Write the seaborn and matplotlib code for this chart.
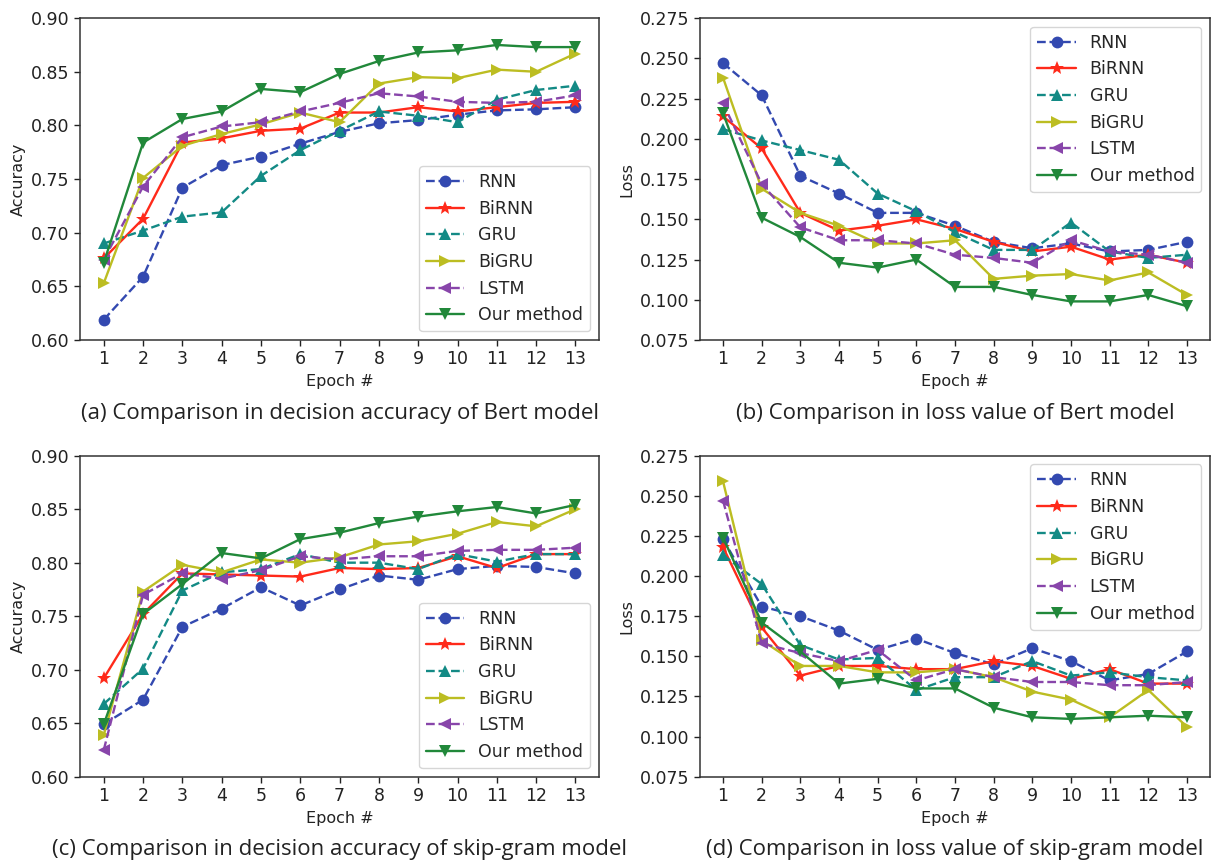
import numpy as np
import pandas as pd
import matplotlib
matplotlib.use('Agg')
import matplotlib.pyplot as plt
import seaborn as sns

epochs = list(range(1, 14))
models = ['RNN', 'BiRNN', 'GRU', 'BiGRU', 'LSTM', 'Our method']

# (a) accuracy, Bert
acc_bert = {
    'RNN':        [0.619, 0.659, 0.742, 0.763, 0.771, 0.783, 0.794, 0.802, 0.805, 0.810, 0.814, 0.815, 0.817],
    'BiRNN':      [0.676, 0.713, 0.784, 0.788, 0.795, 0.797, 0.812, 0.812, 0.817, 0.813, 0.817, 0.821, 0.822],
    'GRU':        [0.690, 0.702, 0.715, 0.719, 0.753, 0.777, 0.795, 0.813, 0.809, 0.803, 0.824, 0.833, 0.837],
    'BiGRU':      [0.653, 0.751, 0.781, 0.792, 0.801, 0.812, 0.803, 0.839, 0.845, 0.844, 0.852, 0.850, 0.867],
    'LSTM':       [0.675, 0.743, 0.789, 0.799, 0.803, 0.813, 0.821, 0.830, 0.827, 0.822, 0.821, 0.822, 0.828],
    'Our method': [0.672, 0.784, 0.806, 0.813, 0.834, 0.831, 0.848, 0.860, 0.868, 0.870, 0.875, 0.873, 0.873],
}

# (b) loss, Bert
loss_bert = {
    'RNN':        [0.247, 0.227, 0.177, 0.166, 0.154, 0.154, 0.146, 0.136, 0.132, 0.135, 0.130, 0.131, 0.136],
    'BiRNN':      [0.214, 0.194, 0.154, 0.143, 0.146, 0.150, 0.144, 0.136, 0.130, 0.133, 0.125, 0.128, 0.123],
    'GRU':        [0.206, 0.199, 0.193, 0.187, 0.166, 0.155, 0.142, 0.131, 0.131, 0.148, 0.130, 0.126, 0.128],
    'BiGRU':      [0.238, 0.169, 0.154, 0.146, 0.135, 0.135, 0.137, 0.113, 0.115, 0.116, 0.112, 0.117, 0.103],
    'LSTM':       [0.222, 0.172, 0.145, 0.137, 0.137, 0.135, 0.128, 0.126, 0.123, 0.137, 0.130, 0.128, 0.123],
    'Our method': [0.216, 0.151, 0.139, 0.123, 0.120, 0.125, 0.108, 0.108, 0.103, 0.099, 0.099, 0.103, 0.096],
}

# (c) accuracy, skip-gram
acc_sg = {
    'RNN':        [0.649, 0.672, 0.740, 0.757, 0.777, 0.760, 0.775, 0.788, 0.784, 0.794, 0.797, 0.796, 0.790],
    'BiRNN':      [0.692, 0.752, 0.790, 0.789, 0.788, 0.787, 0.795, 0.794, 0.795, 0.806, 0.795, 0.808, 0.808],
    'GRU':        [0.668, 0.701, 0.774, 0.791, 0.794, 0.808, 0.800, 0.800, 0.794, 0.808, 0.801, 0.808, 0.808],
    'BiGRU':      [0.639, 0.773, 0.798, 0.791, 0.803, 0.800, 0.805, 0.817, 0.820, 0.827, 0.838, 0.834, 0.850],
    'LSTM':       [0.625, 0.770, 0.790, 0.785, 0.793, 0.806, 0.803, 0.806, 0.806, 0.811, 0.812, 0.812, 0.814],
    'Our method': [0.649, 0.752, 0.780, 0.809, 0.804, 0.822, 0.828, 0.837, 0.843, 0.848, 0.852, 0.846, 0.854],
}

# (d) loss, skip-gram
loss_sg = {
    'RNN':        [0.223, 0.181, 0.175, 0.166, 0.154, 0.161, 0.152, 0.145, 0.155, 0.147, 0.135, 0.139, 0.153],
    'BiRNN':      [0.218, 0.168, 0.138, 0.144, 0.144, 0.142, 0.142, 0.147, 0.144, 0.136, 0.142, 0.133, 0.133],
    'GRU':        [0.213, 0.195, 0.157, 0.148, 0.149, 0.129, 0.137, 0.137, 0.147, 0.138, 0.140, 0.137, 0.135],
    'BiGRU':      [0.259, 0.160, 0.144, 0.144, 0.140, 0.140, 0.142, 0.137, 0.128, 0.123, 0.112, 0.129, 0.106],
    'LSTM':       [0.247, 0.158, 0.152, 0.147, 0.154, 0.135, 0.142, 0.137, 0.134, 0.134, 0.132, 0.132, 0.134],
    'Our method': [0.224, 0.171, 0.153, 0.133, 0.136, 0.130, 0.130, 0.118, 0.112, 0.111, 0.112, 0.113, 0.112],
}

colors = {'RNN': '#3349b0', 'BiRNN': '#ff2a1a', 'GRU': '#138a85',
          'BiGRU': '#bcbd22', 'LSTM': '#8845aa', 'Our method': '#21883a'}
markers = {'RNN': 'o', 'BiRNN': '*', 'GRU': '^', 'BiGRU': '>', 'LSTM': '<', 'Our method': 'v'}
styles = {'RNN': '--', 'BiRNN': '-', 'GRU': '--', 'BiGRU': '-', 'LSTM': '--', 'Our method': '-'}

sns.set_style('ticks')
plt.rcParams['font.family'] = ['DejaVu Sans']

fig = plt.figure(figsize=(12.15, 8.63), dpi=100)

panels = [
    (acc_bert, [0.066, 0.606, 0.427, 0.373], 'Accuracy', 'lower right',
     '(a) Comparison in decision accuracy of Bert model', 0.509),
    (loss_bert, [0.576, 0.606, 0.420, 0.373], 'Loss', 'upper right',
     '(b) Comparison in loss value of Bert model', 0.509),
    (acc_sg, [0.066, 0.100, 0.427, 0.372], 'Accuracy', 'lower right',
     '(c) Comparison in decision accuracy of skip-gram model', 0.003),
    (loss_sg, [0.576, 0.100, 0.420, 0.372], 'Loss', 'upper right',
     '(d) Comparison in loss value of skip-gram model', 0.003),
]

for data, pos, ylab, loc, caption, cap_y in panels:
    ax = fig.add_axes(pos)
    for m in models:
        sns.lineplot(x=epochs, y=data[m], ax=ax, label=m, color=colors[m],
                     marker=markers[m], linestyle=styles[m], linewidth=1.7,
                     markersize=10 if m == 'BiRNN' else 8.5, markeredgewidth=0)
    ax.set_xticks(epochs)
    if ylab == 'Accuracy':
        ax.set_ylim(0.60, 0.90)
        ax.set_yticks(np.arange(0.60, 0.901, 0.05))
        ax.yaxis.set_major_formatter(plt.FormatStrFormatter('%.2f'))
    else:
        ax.set_ylim(0.075, 0.275)
        ax.set_yticks(np.arange(0.075, 0.2751, 0.025))
        ax.yaxis.set_major_formatter(plt.FormatStrFormatter('%.3f'))
    ax.tick_params(labelsize=12.5, width=1, length=4, colors='#222222')
    ax.set_xlabel('Epoch #', fontsize=11.5, color='#222222')
    ax.set_ylabel(ylab, fontsize=11.5, color='#222222')
    for s in ax.spines.values():
        s.set_color('#333333')
        s.set_linewidth(1.1)
    ax.legend(loc=loc, fontsize=12.5, frameon=True, handlelength=2.2)
    fig.text(pos[0] + pos[2] / 2, cap_y, caption, ha='center', va='bottom',
             fontsize=16, family='Open Sans', color='#222222')

fig.savefig('out.png', dpi=100)
